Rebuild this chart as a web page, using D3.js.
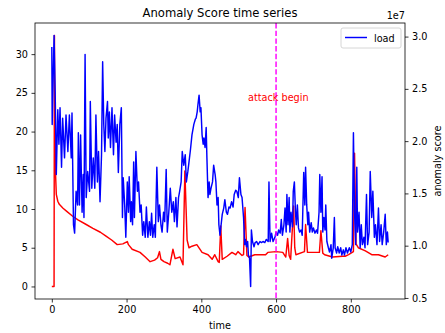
<!DOCTYPE html>
<html>
<head>
<meta charset="utf-8">
<script src="https://cdn.jsdelivr.net/npm/d3@7"></script>
<style>
  body { margin: 0; background: #fff; }
  text { font-family: "DejaVu Sans", sans-serif; }
</style>
</head>
<body>
<div class="canvas"></div>
<script>
// anomaly score (left axis)
const scoreTime = [0, 6, 7, 8, 10, 12, 16, 20, 30, 40, 55, 70, 92, 110, 130, 145, 160, 175, 190, 202, 205, 215, 236, 250, 263, 275, 283, 288, 292, 300, 310, 316, 324, 330, 343, 351, 356, 362, 367, 375, 388, 402, 418, 429, 436, 445, 448, 452, 456, 469, 482, 492, 498, 509, 513, 517, 522, 527, 543, 572, 578, 600, 618, 626, 631, 635, 639, 647, 650, 653, 676, 679, 684, 689, 716, 720, 725, 730, 751, 778, 785, 794, 807, 810, 814, 820, 839, 856, 874, 892, 900];
const scoreValues = [0, 0, 32.4, 21, 14.5, 11.9, 11.0, 10.6, 10.1, 9.7, 9.1, 8.6, 8.0, 7.5, 7.0, 6.5, 6.0, 5.4, 5.5, 5.8, 5.4, 4.8, 4.4, 3.8, 3.2, 3.4, 3.7, 4.5, 3.5, 3.2, 3.0, 2.8, 4.8, 3.6, 3.8, 2.8, 14.9, 6.0, 5.0, 5.2, 5.4, 4.4, 4.1, 3.5, 4.1, 3.2, 3.1, 7.8, 3.5, 3.9, 4.4, 4.1, 4.5, 4.0, 4.1, 10.2, 4.0, 3.8, 4.1, 4.1, 4.4, 4.5, 4.4, 3.8, 6.2, 4.0, 3.5, 10.4, 5.0, 4.1, 4.5, 8.0, 4.4, 4.4, 4.4, 7.2, 4.3, 4.1, 3.8, 3.9, 3.9, 4.1, 4.5, 17.2, 5.5, 5.0, 4.6, 4.1, 4.1, 3.8, 4.1];

// load (right axis, in units of 1e7)
const loadTime = [0, 1, 6, 9, 12, 16, 19, 22, 26, 29, 34, 38, 43, 47, 52, 54, 58, 61, 65, 69, 71, 74, 77, 81, 84, 86, 89, 92, 96, 101, 103, 107, 111, 115, 118, 122, 125, 129, 133, 136, 139, 142, 145, 149, 151, 154, 157, 161, 165, 168, 172, 175, 178, 182, 186, 189, 191, 195, 198, 202, 205, 207, 211, 213, 216, 219, 221, 225, 229, 232, 236, 239, 243, 246, 250, 253, 257, 261, 264, 267, 270, 274, 277, 281, 285, 288, 292, 295, 299, 302, 306, 309, 313, 317, 321, 325, 328, 332, 335, 339, 342, 346, 349, 353, 357, 360, 364, 367, 371, 375, 380, 384, 386, 389, 391, 394, 397, 399, 402, 405, 407, 410, 413, 415, 418, 421, 423, 426, 430, 433, 437, 439, 442, 445, 447, 450, 453, 456, 460, 463, 467, 470, 474, 477, 481, 485, 488, 492, 495, 499, 502, 506, 509, 513, 516, 518, 521, 524, 526, 529, 532, 534, 537, 541, 544, 548, 552, 557, 561, 565, 570, 574, 579, 581, 584, 588, 592, 597, 600, 604, 607, 611, 614, 617, 621, 624, 627, 629, 632, 635, 637, 640, 644, 646, 649, 652, 654, 657, 660, 663, 667, 670, 674, 677, 679, 682, 685, 687, 690, 694, 697, 700, 704, 708, 711, 715, 717, 720, 723, 725, 728, 731, 733, 736, 740, 743, 747, 749, 753, 756, 758, 762, 765, 769, 773, 776, 780, 783, 787, 791, 796, 800, 804, 807, 810, 813, 816, 818, 822, 825, 828, 831, 835, 838, 842, 845, 849, 852, 856, 859, 863, 866, 870, 874, 877, 881, 884, 888, 892, 895, 898, 900];
const loadValues = [2.90, 2.16, 3.01, 2.47, 1.68, 2.30, 1.97, 2.32, 1.75, 2.22, 1.84, 2.25, 1.90, 2.25, 1.84, 2.27, 1.20, 1.12, 1.52, 1.39, 2.08, 1.39, 2.06, 1.32, 1.68, 1.27, 2.83, 1.46, 1.71, 1.52, 2.38, 1.55, 1.84, 1.55, 2.25, 1.61, 1.90, 1.42, 1.87, 2.76, 2.16, 1.90, 2.22, 2.38, 2.03, 2.28, 1.94, 2.32, 1.87, 2.25, 1.99, 2.16, 1.70, 2.16, 2.32, 1.27, 1.65, 1.39, 1.08, 1.61, 1.32, 1.66, 1.23, 1.42, 1.20, 1.80, 1.27, 1.90, 1.52, 1.61, 1.32, 1.39, 1.10, 1.23, 1.08, 1.37, 1.08, 1.23, 1.10, 1.31, 1.08, 1.20, 1.08, 1.75, 1.23, 1.39, 1.20, 1.13, 1.32, 1.23, 1.73, 1.13, 1.32, 1.55, 1.32, 1.42, 1.23, 1.46, 1.18, 1.46, 1.52, 1.61, 1.90, 1.77, 1.87, 1.61, 1.71, 1.80, 1.92, 2.06, 2.16, 2.21, 2.22, 2.28, 2.35, 2.44, 2.28, 2.32, 2.06, 1.97, 2.03, 1.94, 2.13, 1.84, 1.46, 1.61, 1.49, 1.55, 1.61, 1.77, 1.68, 1.61, 1.39, 1.46, 1.20, 1.10, 1.20, 1.30, 1.36, 1.44, 1.32, 1.30, 1.37, 1.36, 1.42, 1.37, 1.49, 1.53, 1.52, 1.46, 1.65, 1.49, 1.46, 1.27, 1.01, 1.06, 0.99, 1.04, 0.91, 0.88, 0.61, 1.15, 1.04, 0.99, 1.03, 1.04, 1.01, 1.04, 1.03, 1.04, 1.03, 1.06, 1.04, 1.61, 1.04, 1.12, 1.04, 1.08, 1.13, 1.10, 1.15, 1.12, 1.25, 1.10, 1.20, 1.36, 1.13, 1.49, 1.20, 1.46, 1.13, 1.32, 1.18, 1.52, 1.61, 1.32, 1.20, 1.39, 1.17, 1.13, 1.15, 1.10, 1.70, 1.39, 1.75, 1.39, 1.20, 1.32, 1.13, 1.22, 1.13, 1.17, 1.12, 1.15, 1.12, 1.32, 1.68, 1.32, 1.66, 1.13, 1.27, 1.15, 1.39, 1.04, 0.98, 0.94, 1.01, 0.88, 0.98, 1.27, 0.98, 0.93, 0.99, 0.93, 0.98, 0.91, 0.96, 0.91, 0.98, 0.93, 0.98, 0.94, 1.01, 2.08, 1.32, 1.01, 1.75, 1.13, 1.32, 0.98, 1.20, 1.01, 1.08, 0.98, 1.49, 1.01, 1.13, 1.71, 1.27, 1.52, 1.08, 1.20, 1.01, 1.36, 1.04, 1.20, 1.01, 1.13, 1.30, 1.01, 1.13, 1.03];

const xTicks = [0, 200, 400, 600, 800];
const scoreTicks = [0, 5, 10, 15, 20, 25, 30];
const loadTicks = [0.5, 1.0, 1.5, 2.0, 2.5, 3.0];
const attackTime = 600;

const svgWidth = 445;
const svgHeight = 333;
const margin = { top: 23, right: 40, bottom: 34, left: 35 };
const graphWidth = svgWidth - margin.left - margin.right;
const graphHeight = svgHeight - margin.top - margin.bottom;

const svg = d3.select('.canvas')
    .append('svg')
        .attr('width', svgWidth)
        .attr('height', svgHeight);

const g = svg.append('g')
    .attr('transform', `translate(${margin.left}, ${margin.top})`);

// matplotlib style 5% padding
const pad = ([a, b]) => [a - (b - a) * 0.05, b + (b - a) * 0.05];

const x = d3.scaleLinear()
    .domain(pad(d3.extent(loadTime.concat(scoreTime))))
    .range([0, graphWidth]);
const yScore = d3.scaleLinear()
    .domain(pad(d3.extent(scoreValues)))
    .range([graphHeight, 0]);
const yLoad = d3.scaleLinear()
    .domain(pad(d3.extent(loadValues)))
    .range([graphHeight, 0]);

const scoreData = scoreTime.map((t, i) => ({ t, v: scoreValues[i] }));
const loadData = loadTime.map((t, i) => ({ t, v: loadValues[i] }));

g.append('path')
    .datum(scoreData)
    .attr('fill', 'none')
    .attr('stroke', 'red')
    .attr('stroke-width', 1.45)
    .attr('stroke-linejoin', 'round')
    .attr('d', d3.line().x(d => x(d.t)).y(d => yScore(d.v)));

g.append('path')
    .datum(loadData)
    .attr('fill', 'none')
    .attr('stroke', 'blue')
    .attr('stroke-width', 1.45)
    .attr('stroke-linejoin', 'round')
    .attr('d', d3.line().x(d => x(d.t)).y(d => yLoad(d.v)));

// attack marker
g.append('line')
    .attr('x1', x(attackTime))
    .attr('x2', x(attackTime))
    .attr('y1', 0)
    .attr('y2', graphHeight)
    .attr('stroke', '#ff00ff')
    .attr('stroke-width', 1.45)
    .attr('stroke-dasharray', '5.4,2.3');

g.append('text')
    .attr('x', x(525))
    .attr('y', yScore(24))
    .attr('fill', 'red')
    .attr('font-size', '9.7px')
    .text('attack begin');

// axes
const xAxis = d3.axisBottom(x).tickValues(xTicks).tickSize(3.5).tickPadding(3.5);
const yAxisLeft = d3.axisLeft(yScore).tickValues(scoreTicks).tickSize(3.5).tickPadding(3.5);
const yAxisRight = d3.axisRight(yLoad).tickValues(loadTicks).tickFormat(d3.format('.1f')).tickSize(3.5).tickPadding(3.5);

const xAxisGroup = g.append('g')
    .attr('transform', `translate(0, ${graphHeight})`)
    .call(xAxis);
const yAxisGroup = g.append('g')
    .call(yAxisLeft);
const yRightGroup = g.append('g')
    .attr('transform', `translate(${graphWidth}, 0)`)
    .call(yAxisRight);

[xAxisGroup, yAxisGroup, yRightGroup].forEach(ax => {
    ax.select('.domain').remove();
    ax.selectAll('text').attr('font-size', '9.7px').attr('font-family', '"DejaVu Sans", sans-serif').attr('fill', '#000');
    ax.selectAll('line').attr('stroke', '#000').attr('stroke-width', 0.8);
});

g.append('rect')
    .attr('width', graphWidth)
    .attr('height', graphHeight)
    .attr('fill', 'none')
    .attr('stroke', '#000')
    .attr('stroke-width', 0.8);

// legend
const legend = svg.append('g').attr('transform', 'translate(341, 28)');
legend.append('rect')
    .attr('width', 60)
    .attr('height', 20)
    .attr('rx', 2)
    .attr('fill', 'white')
    .attr('fill-opacity', 0.8)
    .attr('stroke', '#cccccc')
    .attr('stroke-width', 0.8);
legend.append('line')
    .attr('x1', 4).attr('x2', 26)
    .attr('y1', 9.5).attr('y2', 9.5)
    .attr('stroke', 'blue')
    .attr('stroke-width', 1.45);
legend.append('text')
    .attr('x', 33)
    .attr('y', 13.5)
    .attr('font-size', '9.7px')
    .text('load');

// titles and labels
svg.append('text')
    .attr('x', margin.left + graphWidth / 2)
    .attr('y', 17)
    .attr('text-anchor', 'middle')
    .attr('font-size', '11.6px')
    .text('Anomaly Score time series');

svg.append('text')
    .attr('x', margin.left + graphWidth)
    .attr('y', 19)
    .attr('text-anchor', 'end')
    .attr('font-size', '9.7px')
    .text('1e7');

svg.append('text')
    .attr('x', margin.left + graphWidth / 2)
    .attr('y', 329)
    .attr('text-anchor', 'middle')
    .attr('font-size', '9.7px')
    .text('time');

svg.append('text')
    .attr('transform', `translate(441, ${margin.top + graphHeight / 2}) rotate(-90)`)
    .attr('text-anchor', 'middle')
    .attr('font-size', '9.7px')
    .text('anomaly score');
</script>
</body>
</html>
